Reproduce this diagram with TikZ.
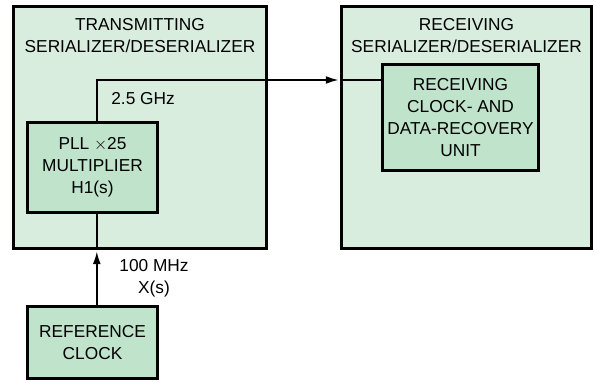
\documentclass[tikz,border=0pt]{standalone}
\usepackage{fontspec}
\setmainfont{Liberation Sans}
\definecolor{SERlight}{HTML}{D9EDDF}
\definecolor{SERgreen}{HTML}{BFE3CB}
\usetikzlibrary{calc, arrows.meta, positioning}
\tikzset{
   serdes/.style={draw, line width=2.1pt, fill=SERlight},
   unitbox/.style={draw, line width=2.1pt, fill=SERgreen, align=center},
   wire/.style={line width=1.1pt},
   title/.style={align=center}
}

\begin{document}
\begin{tikzpicture}[font=\fontsize{12.3}{15.5}\selectfont, >={Latex[length=9pt,width=5.5pt]}]
            \useasboundingbox (0,0) rectangle (14.85,9.525);
            \node[serdes, minimum width=6.32cm, minimum height=6.05cm] (tx) at (3.5,6.3375) {};
            \node[serdes, minimum width=6.25cm, minimum height=6.05cm] (rx) at (11.6625,6.3375) {};
            \node[title] (txtitle) at ($(tx.north)+(0,-0.76)$) {TRANSMITTING\\SERIALIZER/DESERIALIZER};
            \node[title] (rxtitle) at ($(rx.north)+(0,-0.76)$) {RECEIVING\\SERIALIZER/DESERIALIZER};
            \node[unitbox, minimum width=3.25cm, minimum height=2.25cm] (pll) at (2.3125,5.3375)
               {PLL $\times$25\\MULTIPLIER\\H1(s)};
            \node[unitbox, minimum width=3.8cm, minimum height=2.65cm] (cdr) at (11.5125,6.5875)
               {RECEIVING\\CLOCK- AND\\DATA-RECOVERY\\UNIT};
            \node[unitbox, minimum width=3.25cm, minimum height=1.8cm] (refclk) at (2.3125,0.9625)
               {REFERENCE\\CLOCK};
            \coordinate (bend) at (2.42,7.525);
            \draw[wire, ->, shorten >=1pt] (pll.north -| bend) -- (bend) -- (bend -| rx.west);
            \draw[wire] (bend -| rx.west) -- (bend -| cdr.west);
            \node[anchor=west] (ghz) at (2.66,7.05) {2.5 GHz};
            \draw[wire, ->, shorten >=1pt] (refclk.north -| bend) -- (tx.south -| bend);
            \draw[wire] (tx.south -| bend) -- (pll.south -| bend);
            \node[align=center] (mhz) at (3.85,2.56) {100 MHz\\X(s)};
         \end{tikzpicture}
\end{document}
